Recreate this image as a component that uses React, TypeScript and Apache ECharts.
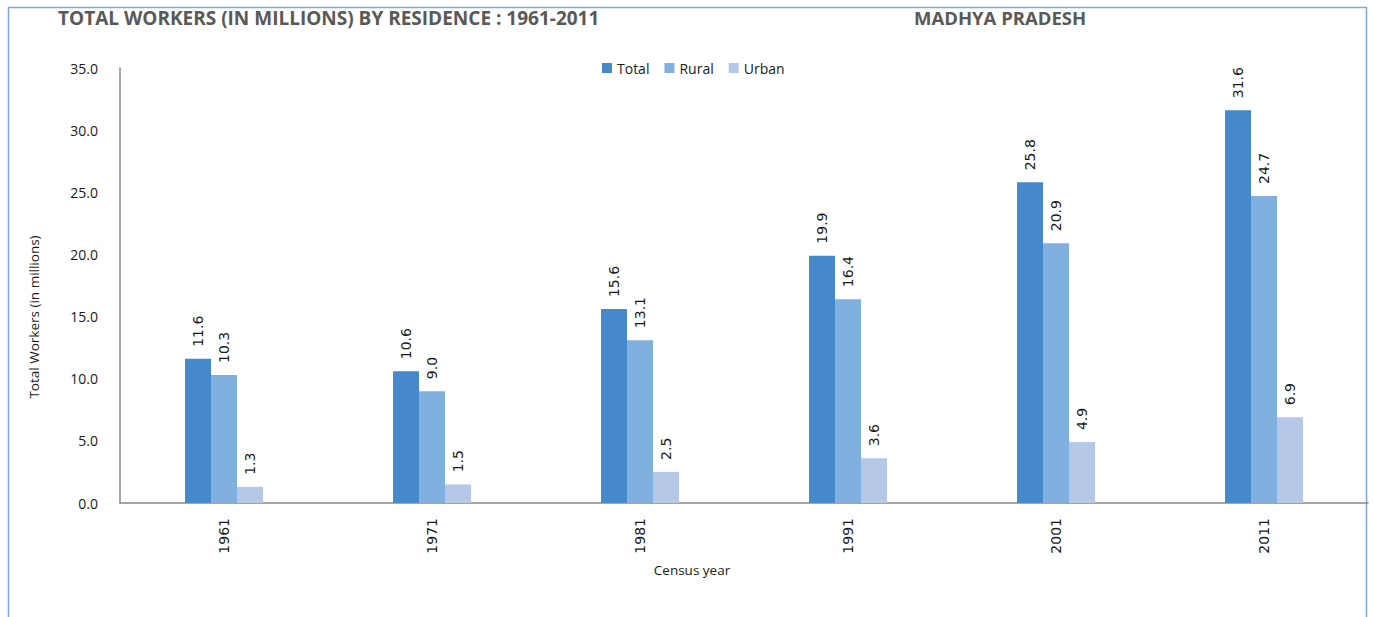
import React, { useEffect, useRef } from "react";
import * as echarts from "echarts";

const categories = ["1961", "1971", "1981", "1991", "2001", "2011"];
const totalValues = [11.6, 10.6, 15.6, 19.9, 25.8, 31.6];
const ruralValues = [10.3, 9.0, 13.1, 16.4, 20.9, 24.7];
const urbanValues = [1.3, 1.5, 2.5, 3.6, 4.9, 6.9];
const seriesNames = ["Total", "Rural", "Urban"];

const colors = ["#4589CB", "#80B0DE", "#B6C8E7"];

export default function App() {
  const ref = useRef<HTMLDivElement>(null);
  useEffect(() => {
    document.body.style.margin = "0";
    const chart = echarts.init(ref.current!, null, { renderer: "svg" });
    const labelCfg = {
      show: true,
      position: "top",
      rotate: 90,
      align: "left",
      verticalAlign: "middle",
      distance: 12,
      fontFamily: "DejaVu Sans",
      fontSize: 14,
      color: "#1a1a1a",
      formatter: (p: any) => Number(p.value).toFixed(1),
    };
    const data = [totalValues, ruralValues, urbanValues];
    chart.setOption({
      animation: false,
      color: colors,
      graphic: [
        {
          type: "rect",
          shape: { x: 8.5, y: 7.5, width: 1358, height: 640 },
          style: { fill: "none", stroke: "#7EAADB", lineWidth: 1.5 },
        },
        {
          type: "text",
          left: 58,
          top: 8,
          style: {
            text: "TOTAL WORKERS (IN MILLIONS) BY RESIDENCE : 1961-2011",
            font: "bold 19px 'Open Sans'",
            fill: "#595959",
          },
        },
        {
          type: "text",
          left: 914,
          top: 8,
          style: {
            text: "MADHYA PRADESH",
            font: "bold 18.5px 'Open Sans'",
            fill: "#595959",
          },
        },
        {
          type: "text",
          x: 34,
          y: 317,
          rotation: Math.PI / 2,
          style: {
            text: "Total Workers (in millions)",
            font: "13.5px 'Open Sans'",
            fill: "#1a1a1a",
            align: "center",
            verticalAlign: "middle",
          },
        },
        {
          type: "text",
          x: 692,
          y: 570,
          style: {
            text: "Census year",
            font: "13.5px 'Open Sans'",
            fill: "#1a1a1a",
            align: "center",
            verticalAlign: "middle",
          },
        },
      ],
      legend: {
        data: seriesNames,
        top: 56,
        left: 597,
        itemWidth: 10,
        itemHeight: 10,
        itemGap: 15,
        icon: "rect",
        textStyle: { fontFamily: "Open Sans", fontSize: 14, color: "#1a1a1a" },
      },
      grid: { left: 120, right: 5, top: 68, bottom: 114 },
      xAxis: {
        type: "category",
        data: categories,
        axisLine: { lineStyle: { color: "#888888", width: 1.5 } },
        axisTick: { show: false },
        axisLabel: {
          rotate: 90,
          margin: 15,
          fontFamily: "DejaVu Sans",
          fontSize: 14,
          color: "#1a1a1a",
        },
      },
      yAxis: {
        type: "value",
        min: 0,
        max: 35,
        interval: 5,
        splitLine: { show: false },
        axisLine: { show: true, lineStyle: { color: "#888888", width: 1.5 } },
        axisTick: { show: false },
        axisLabel: {
          margin: 22,
          fontFamily: "Open Sans",
          fontSize: 14,
          color: "#1a1a1a",
          formatter: (v: number) => v.toFixed(1),
        },
      },
      series: seriesNames.map((name, i) => ({
        name,
        type: "bar",
        data: data[i],
        barGap: "0%",
        barCategoryGap: "62.5%",
        label: labelCfg,
      })),
    });
    return () => chart.dispose();
  }, []);
  return <div ref={ref} style={{ width: 1373, height: 617 }} />;
}
